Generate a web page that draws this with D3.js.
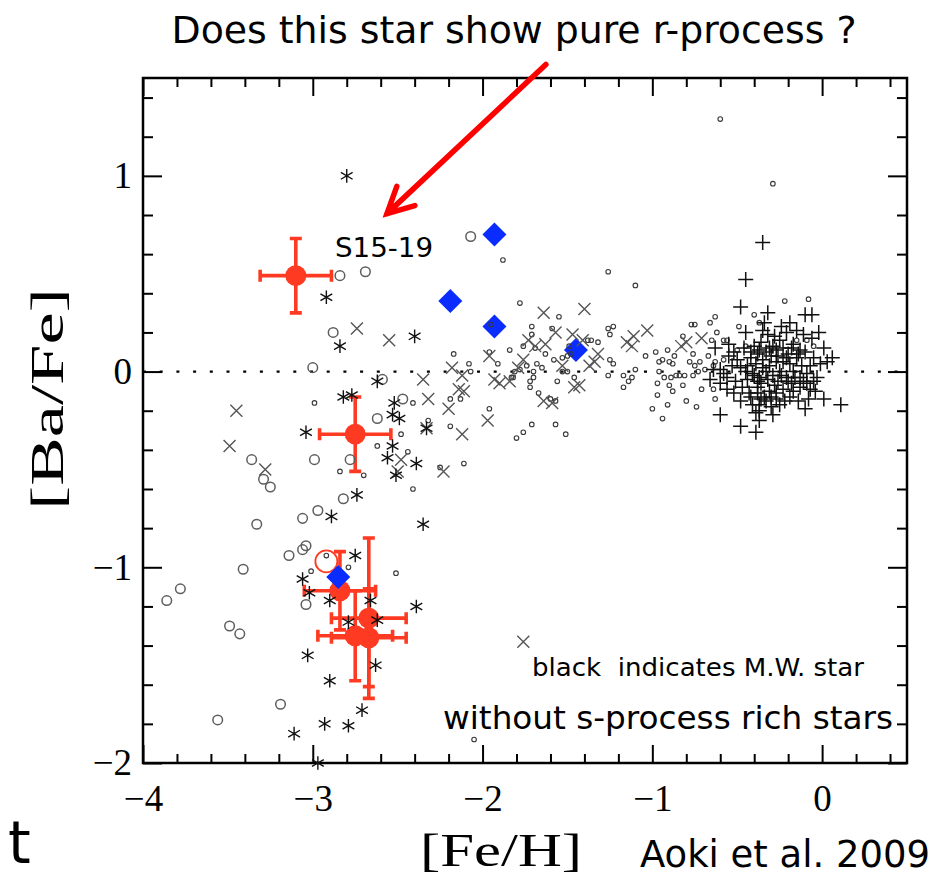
<!DOCTYPE html>
<html><head><meta charset="utf-8">
<script src="https://cdn.jsdelivr.net/npm/d3@7"></script>
<style>body{margin:0;background:#fff}svg{display:block}</style>
</head><body>
<svg id="chart" width="943" height="878"></svg>
<script>
// Axis ranges and labelled ticks
const feHDomain = [-4, 0.5];
const baFeDomain = [-2, 1.5];
const feHMajorTicks = [-4, -3, -2, -1, 0];
const baFeMajorTicks = [-2, -1, 0, 1];

// Sextans dSph stars: [Fe/H], [Ba/Fe], error in [Fe/H], error in [Ba/Fe]
const sextansFeH = [-3.10, -2.75, -2.84, -2.67, -2.67, -2.75];
const sextansBaFe = [0.49, -0.32, -1.12, -1.26, -1.36, -1.35];
const sextansErrFeH = [0.21, 0.21, 0.21, 0.22, 0.22, 0.22];
const sextansErrBaFe = [0.19, 0.19, 0.20, 0.41, 0.25, 0.23];

// Open red symbol
const openRed = [[-2.92, -0.97]];

// Blue diamonds
const blueDiamonds = [[-1.93, 0.70], [-2.19, 0.36], [-1.93, 0.23], [-1.45, 0.11], [-2.85, -1.05]];

// Milky Way comparison samples, [Fe/H], [Ba/Fe]
const asterisks = [[-2.80,1.00],[-2.92,0.38],[-2.84,0.13],[-2.40,0.18],[-2.62,-0.05],[-2.82,-0.13],[-2.77,-0.12],[-2.52,-0.16],[-2.53,-0.22],[-2.49,-0.24],[-3.04,-0.31],[-2.33,-0.29],[-2.53,-0.38],[-2.56,-0.44],[-2.39,-0.47],[-2.51,-0.53],[-2.74,-0.63],[-2.89,-0.74],[-2.35,-0.78],[-2.75,-0.94],[-3.06,-1.06],[-3.02,-1.13],[-2.90,-1.17],[-2.66,-1.17],[-2.39,-1.20],[-2.79,-1.28],[-2.62,-1.27],[-3.03,-1.45],[-2.63,-1.50],[-2.90,-1.58],[-2.71,-1.73],[-2.93,-1.80],[-2.79,-1.81],[-3.11,-1.85],[-2.97,-2.00]];

const crosses = [[-3.45,-0.20],[-3.49,-0.38],[-3.28,-0.50],[-2.74,0.22],[-2.55,0.16],[-2.35,-0.04],[-2.32,-0.14],[-2.33,-0.29],[-2.20,-0.19],[-2.12,-0.32],[-2.23,-0.51],[-2.48,-0.45],[-2.50,-0.51],[-2.18,0.02],[-2.14,-0.09],[-2.11,-0.10],[-2.12,-0.02],[-1.96,0.08],[-1.93,-0.04],[-1.90,-0.06],[-1.97,-0.25],[-1.76,-1.38],[-1.64,0.30],[-1.40,0.32],[-1.73,0.16],[-1.69,0.13],[-1.63,0.14],[-1.57,0.20],[-1.47,0.19],[-1.41,0.16],[-1.32,0.09],[-1.34,0.05],[-1.15,0.15],[-1.12,0.13],[-1.11,0.18],[-1.03,0.21],[-1.76,0.06],[-1.79,0.02],[-1.84,-0.05],[-1.53,0.03],[-1.59,-0.16],[-1.64,-0.15],[-1.46,-0.08],[-1.43,-0.07],[-1.37,0.03],[-0.83,0.13],[-0.80,0.15],[-0.71,0.17]];

const bigCircles = [[-2.84,0.49],[-2.69,0.51],[-2.07,0.69],[-2.88,0.20],[-3.00,0.02],[-2.59,-0.04],[-2.47,-0.14],[-2.62,-0.24],[-2.99,-0.45],[-2.78,-0.45],[-3.36,-0.45],[-3.29,-0.55],[-3.25,-0.59],[-2.82,-0.65],[-2.97,-0.71],[-3.06,-0.75],[-3.33,-0.78],[-3.06,-0.91],[-3.04,-0.89],[-3.14,-0.94],[-3.41,-1.01],[-3.78,-1.11],[-3.86,-1.17],[-3.04,-1.19],[-3.49,-1.30],[-3.43,-1.34],[-3.19,-1.70],[-3.56,-1.78]];

const smallCircles = [[-1.88,0.57],[-1.78,0.35],[-1.95,0.24],[-2.17,0.09],[-2.08,0.04],[-2.07,0.00],[-2.99,-0.16],[-2.41,-0.16],[-2.19,-0.14],[-2.13,-0.14],[-1.96,-0.19],[-2.32,-0.25],[-2.19,-0.28],[-2.48,-0.32],[-2.62,-0.38],[-2.44,-0.41],[-2.11,-0.47],[-2.84,-0.51],[-2.70,-0.53],[-2.41,-0.60],[-2.25,-0.49],[-2.92,-0.94],[-3.01,-1.02],[-2.79,-1.00],[-2.51,-1.03],[-2.05,-1.88],[-1.80,-0.34],[-1.76,-0.31],[-1.71,-0.27],[-1.67,-0.11],
[-1.55,0.28],[-1.71,0.23],[-1.71,0.19],[-1.59,0.22],[-1.84,0.11],[-1.76,0.13],[-1.69,0.12],[-1.63,0.09],[-1.49,0.13],[-1.48,0.09],[-1.38,0.16],[-1.36,0.16],[-1.32,0.15],[-1.26,0.22],[-1.23,0.23],[-1.25,0.19],[-1.25,0.06],[-1.23,0.04],[-1.96,0.10],[-1.91,0.04],[-1.68,0.04],[-1.65,0.02],[-1.74,0.03],[-1.81,0.00],[-1.78,0.01],[-1.70,0.00],[-1.83,-0.03],[-1.82,-0.03],[-1.70,-0.03],[-1.72,-0.05],[-1.72,-0.08],[-1.58,0.06],[-1.53,0.07],[-1.50,0.08],[-1.53,0.00],[-1.50,0.00],[-1.46,-0.03],[-1.56,-0.05],[-1.60,-0.14],[-1.57,-0.15],[-1.26,-0.02],[-1.17,-0.02],[-1.14,-0.05],[-1.12,-0.03],[-1.17,-0.08],[-1.10,0.01],[-1.04,0.08],[-0.98,0.10],[-0.94,0.06],[-0.90,0.05],[-0.96,0.05],[-0.91,0.11],[-0.87,0.08],[-0.88,0.04],[-0.96,0.00],[-0.93,-0.03],[-0.89,-0.03],[-0.86,-0.02],[-0.97,-0.06],[-0.90,-0.07],[-0.88,-0.10],[-0.97,-0.12],[-0.91,-0.17],[-1.00,-0.19],[-0.94,-0.24],[-1.57,-0.27],[-1.51,-0.32],
[-0.60,1.29],[-0.29,0.96],[-1.26,0.51],[-1.10,0.44],[-0.22,0.36],[-0.08,0.37],[-0.40,0.29],[-0.37,0.25],[-0.49,0.23],[-0.63,0.28],[-0.66,0.25],[-0.75,0.24],[-0.62,0.20],[-0.58,0.16],[-0.56,0.16],[-0.65,0.16],[-0.82,0.18],[-0.77,0.24],[-0.45,0.13],[-0.50,0.11],[-0.76,0.09],[-0.67,0.08],[-0.78,0.05],[-0.72,0.05],[-0.75,0.03],[-0.84,-0.02],[-0.81,-0.02],[-0.76,-0.02],[-0.73,0.00],[-0.69,0.01],[-0.63,0.05],[-0.64,0.03],[-0.58,0.06],[-0.82,-0.07],[-0.71,-0.09],[-0.64,-0.09],[-0.80,-0.15],[-0.74,-0.18],[-0.63,-0.14],[-0.15,0.16],[-0.05,0.13],[-0.09,0.16]];

const pluses = [[-0.35,0.66],[-0.45,0.47],[-0.48,0.33],[-0.32,0.30],[-0.10,0.29],[-0.06,0.29],[-0.45,0.20],[-0.63,0.12],[-0.55,0.08],[-0.35,0.21],[-0.32,0.19],[-0.28,0.18],[-0.25,0.16],[-0.21,0.20],[-0.15,0.21],[-0.11,0.19],[-0.06,0.17],[0.01,0.12],[0.06,0.07],[-0.40,0.13],[-0.37,0.11],[-0.31,0.12],[-0.27,0.11],[-0.23,0.12],[-0.17,0.14],[-0.13,0.11],[-0.05,0.07],[-0.01,0.04],[0.03,0.05],[-0.53,0.03],[-0.48,0.02],[-0.60,0.01],[-0.56,-0.03],[-0.51,-0.05],[-0.45,0.00],[-0.41,-0.01],[-0.37,-0.03],[-0.33,0.00],[-0.29,-0.02],[-0.25,0.00],[-0.21,-0.03],[-0.17,0.00],[-0.13,-0.03],[-0.09,-0.01],[-0.39,0.04],[-0.35,0.06],[-0.31,0.03],[-0.27,0.05],[-0.23,0.05],[-0.19,0.04],[-0.15,0.07],[-0.38,-0.05],[-0.38,-0.08],[-0.38,-0.11],[-0.60,-0.06],[-0.56,-0.09],[-0.52,-0.11],[-0.47,-0.08],[-0.43,-0.11],[-0.31,-0.10],[-0.27,-0.11],[-0.23,-0.09],[-0.17,-0.10],[-0.13,-0.08],[-0.09,-0.06],[-0.05,-0.05],[-0.03,-0.03],[-0.04,-0.10],[-0.48,-0.15],[-0.41,-0.17],[-0.37,-0.20],[-0.33,-0.15],[-0.27,-0.14],[-0.39,-0.21],[-0.60,-0.22],[-0.08,-0.14],[0.01,-0.14],[-0.10,-0.19],[0.11,-0.17],[-0.48,-0.28],[-0.39,-0.31],[-0.64,0.01],[-0.66,-0.04],[-0.55,0.14],[-0.35,0.02],[-0.30,0.08],[-0.26,-0.05],[-0.20,0.09],[-0.42,0.07],[-0.34,-0.13],[-0.22,-0.15],[-0.30,-0.18],[-0.18,-0.06],[-0.44,-0.04],[-0.50,0.06],[-0.12,0.03],[-0.36,0.15],[-0.24,0.23],
[-0.42,0.10],[-0.38,0.09],[-0.33,0.10],[-0.29,0.13],[-0.26,0.08],[-0.21,0.07],[-0.18,0.12],[-0.14,0.09],[-0.10,0.10],[-0.07,0.03],[-0.44,0.03],[-0.40,-0.02],[-0.36,-0.06],[-0.32,-0.04],[-0.28,-0.07],[-0.24,-0.02],[-0.20,-0.05],[-0.16,-0.03],[-0.11,-0.05],[-0.07,-0.09],[-0.42,-0.13],[-0.36,-0.14],[-0.30,-0.13],[-0.25,-0.17],[-0.19,-0.13],[-0.14,-0.15],[-0.46,0.12],[-0.52,0.10],[-0.58,-0.01],[-0.34,0.25],[-0.19,0.25],[-0.02,0.20],[-0.37,-0.25],[-0.29,-0.22],[-0.37,-0.17]];

// Annotation arrow (tail and head in data units)
const arrowTail = [-1.627, 1.569];
const arrowHead = [-2.563, 0.807];

const svg = d3.select("#chart");
const plot = {left: 143, right: 907, top: 78, bottom: 763};
const x = d3.scaleLinear().domain(feHDomain).range([plot.left, plot.right]);
const y = d3.scaleLinear().domain(baFeDomain).range([plot.bottom, plot.top]);

const isInt = v => Math.abs(v - Math.round(v)) < 1e-6;
const feHMinor = d3.range(-20, 3).map(i => +(i * 0.2).toFixed(2)).filter(v => !isInt(v));
const baFeMinor = d3.range(-10, 8).map(i => +(i * 0.2).toFixed(2)).filter(v => !isInt(v));
const minusFmt = d => d < 0 ? "\u2212" + Math.abs(d) : String(d);

const serif = "'Liberation Serif','DejaVu Serif',serif";
const sans = "'DejaVu Sans Condensed','Liberation Sans',Arial,sans-serif";

// Zero reference line
svg.append("line")
  .attr("x1", x(feHDomain[0])).attr("x2", x(feHDomain[1]))
  .attr("y1", y(0)).attr("y2", y(0))
  .attr("stroke", "#000").attr("stroke-width", 2.2)
  .attr("stroke-dasharray", "3,13.7");

// Ticks on all four sides, pointing inward
function styleAxis(g) {
  g.select(".domain").remove();
  g.selectAll(".tick line").attr("stroke", "#000").attr("stroke-width", 2);
  g.selectAll("text").attr("font-family", serif).attr("font-size", 37).attr("fill", "#000");
}
svg.append("g").attr("transform", `translate(0,${plot.bottom})`)
  .call(d3.axisBottom(x).tickValues(feHMinor).tickSize(-9).tickFormat("")).call(styleAxis);
svg.append("g").attr("transform", `translate(0,${plot.bottom})`)
  .call(d3.axisBottom(x).tickValues(feHMajorTicks).tickSize(-18).tickPadding(22).tickFormat(minusFmt)).call(styleAxis);
svg.append("g").attr("transform", `translate(0,${plot.top})`)
  .call(d3.axisTop(x).tickValues(feHMinor).tickSize(-9).tickFormat("")).call(styleAxis);
svg.append("g").attr("transform", `translate(0,${plot.top})`)
  .call(d3.axisTop(x).tickValues(feHMajorTicks).tickSize(-18).tickFormat("")).call(styleAxis);
svg.append("g").attr("transform", `translate(${plot.left},0)`)
  .call(d3.axisLeft(y).tickValues(baFeMinor).tickSize(-10).tickFormat("")).call(styleAxis);
svg.append("g").attr("transform", `translate(${plot.left},0)`)
  .call(d3.axisLeft(y).tickValues(baFeMajorTicks).tickSize(-19).tickPadding(11).tickFormat(minusFmt)).call(styleAxis);
svg.append("g").attr("transform", `translate(${plot.right},0)`)
  .call(d3.axisRight(y).tickValues(baFeMinor).tickSize(-10).tickFormat("")).call(styleAxis);
svg.append("g").attr("transform", `translate(${plot.right},0)`)
  .call(d3.axisRight(y).tickValues(baFeMajorTicks).tickSize(-19).tickFormat("")).call(styleAxis);

// Frame
svg.append("rect")
  .attr("x", plot.left).attr("y", plot.top)
  .attr("width", plot.right - plot.left).attr("height", plot.bottom - plot.top)
  .attr("fill", "none").attr("stroke", "#000").attr("stroke-width", 2.5);

// Sextans stars with error bars
const red = "#ff3a22";
const sextans = sextansFeH.map((f, i) => ({f, b: sextansBaFe[i], ef: sextansErrFeH[i], eb: sextansErrBaFe[i]}));
const eg = svg.append("g").attr("stroke", red).attr("stroke-width", 3.6).attr("fill", "none");
sextans.forEach(d => {
  const cx = x(d.f), cy = y(d.b);
  const x0 = x(d.f - d.ef), x1 = x(d.f + d.ef), y0 = y(d.b + d.eb), y1 = y(d.b - d.eb);
  const cap = 6;
  eg.append("path").attr("d",
    `M${x0},${cy}H${x1}M${cx},${y0}V${y1}` +
    `M${x0},${cy - cap}V${cy + cap}M${x1},${cy - cap}V${cy + cap}` +
    `M${cx - cap},${y0}H${cx + cap}M${cx - cap},${y1}H${cx + cap}`);
});
svg.append("g").selectAll("circle").data(sextans).join("circle")
  .attr("cx", d => x(d.f)).attr("cy", d => y(d.b)).attr("r", 10.5).attr("fill", red);

svg.append("g").selectAll("circle").data(openRed).join("circle")
  .attr("cx", d => x(d[0])).attr("cy", d => y(d[1])).attr("r", 11)
  .attr("fill", "none").attr("stroke", red).attr("stroke-width", 1.8);

// Blue diamonds
svg.append("g").selectAll("path").data(blueDiamonds).join("path")
  .attr("transform", d => `translate(${x(d[0])},${y(d[1])})`)
  .attr("d", "M0,-12L12,0L0,12L-12,0Z").attr("fill", "#0a2cff");

// Comparison samples
svg.append("g").selectAll("circle").data(bigCircles).join("circle")
  .attr("cx", d => x(d[0])).attr("cy", d => y(d[1])).attr("r", 4.8)
  .attr("fill", "none").attr("stroke", "#5e5e5e").attr("stroke-width", 1.5);

svg.append("g").selectAll("circle").data(smallCircles).join("circle")
  .attr("cx", d => x(d[0])).attr("cy", d => y(d[1])).attr("r", 2.3)
  .attr("fill", "none").attr("stroke", "#3a3a3a").attr("stroke-width", 1.1);

svg.append("g").selectAll("path").data(crosses).join("path")
  .attr("transform", d => `translate(${x(d[0])},${y(d[1])})`)
  .attr("d", "M-6,-6L6,6M-6,6L6,-6")
  .attr("stroke", "#555").attr("stroke-width", 1.4).attr("fill", "none");

svg.append("g").selectAll("path").data(pluses).join("path")
  .attr("transform", d => `translate(${x(d[0])},${y(d[1])})`)
  .attr("d", "M-7.5,0H7.5M0,-7.5V7.5")
  .attr("stroke", "#111").attr("stroke-width", 1.5).attr("fill", "none");

const a = 6.8, ac = a * Math.cos(Math.PI / 6), as = a * Math.sin(Math.PI / 6);
svg.append("g").selectAll("path").data(asterisks).join("path")
  .attr("transform", d => `translate(${x(d[0])},${y(d[1])})`)
  .attr("d", `M0,${-a}V${a}M${-ac},${-as}L${ac},${as}M${-ac},${as}L${ac},${-as}`)
  .attr("stroke", "#111").attr("stroke-width", 1.4).attr("fill", "none");

// Arrow pointing at S15-19
{
  const tx = x(arrowTail[0]), ty = y(arrowTail[1]);
  const hx = x(arrowHead[0]), hy = y(arrowHead[1]);
  const ang = Math.atan2(ty - hy, tx - hx);
  const wl = 29, spread = 27 * Math.PI / 180;
  const w1 = [hx + wl * Math.cos(ang - spread), hy + wl * Math.sin(ang - spread)];
  const w2 = [hx + wl * Math.cos(ang + spread), hy + wl * Math.sin(ang + spread)];
  svg.append("path")
    .attr("d", `M${tx},${ty}L${hx},${hy}M${w1[0]},${w1[1]}L${hx},${hy}L${w2[0]},${w2[1]}`)
    .attr("stroke", "#ff0000").attr("stroke-width", 5.5).attr("fill", "none")
    .attr("stroke-linecap", "round").attr("stroke-linejoin", "miter");
}

// Text
function label(txt, cx, by, size, len, family, anchor) {
  const t = svg.append("text").attr("x", cx).attr("y", by)
    .attr("font-family", family || sans).attr("font-size", size)
    .attr("text-anchor", anchor || "middle").attr("fill", "#000")
    .style("white-space", "pre").text(txt);
  if (len) t.attr("textLength", len).attr("lengthAdjust", "spacingAndGlyphs");
  return t;
}
label("Does this star show pure r-process ?", 514, 43, 38, 685);
label("S15-19", 384, 257, 26, 98);
label("black  indicates M.W. star", 698, 676, 25, 332);
label("without s-process rich stars", 668, 729, 32, 450);
label("Aoki et al. 2009", 785, 867, 37, 290);
label("t", 8, 863, 58, null, "'DejaVu Sans',sans-serif", "start");
label("[Fe/H]", 501, 866, 46, 162, serif);
svg.append("text")
  .attr("transform", "translate(63,399) rotate(-90)")
  .attr("font-family", serif).attr("font-size", 46).attr("text-anchor", "middle")
  .attr("textLength", 222).attr("lengthAdjust", "spacingAndGlyphs")
  .text("[Ba/Fe]");
</script>
</body></html>
